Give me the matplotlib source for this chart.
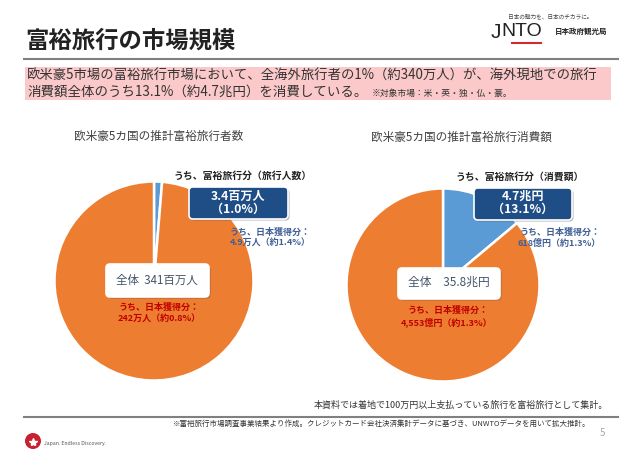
import matplotlib
matplotlib.use("Agg")
import matplotlib.pyplot as plt
from matplotlib.patches import FancyBboxPatch, Rectangle, Circle

plt.rcParams["font.family"] = ["Noto Sans CJK JP", "DejaVu Sans"]

# ─── data ─────────────────────────────────────────────
# shares as drawn in the picture (slices are a bit wider than their labels)
travellers_values = [1.3, 98.7]
spending_values = [13.9, 86.1]

title_left = "欧米豪5カ国の推計富裕旅行者数"
title_right = "欧米豪5カ国の推計富裕旅行消費額"

BLUE = "#5b9bd5"
ORANGE = "#ed7d31"
NAVY = "#1f4e86"
GREY_TEXT = "#404040"
SLATE = "#44546a"
SUB_BLUE = "#3f5f95"
RED = "#c00000"

W, H = 640, 453
fig = plt.figure(figsize=(W / 100, H / 100), dpi=100)

# full figure overlay in pixel coords
bg = fig.add_axes([0, 0, 1, 1])
bg.set_xlim(0, W)
bg.set_ylim(H, 0)
bg.axis("off")


def add_pie(values, cx, cy, r):
    ax = fig.add_axes([(cx - r) / W, 1 - (cy + r) / H, 2 * r / W, 2 * r / H])
    ax.pie(values, colors=[BLUE, ORANGE], startangle=90, counterclock=False,
           radius=1.0, wedgeprops={"edgecolor": "white", "linewidth": 1.8})
    ax.set_xlim(-1, 1)
    ax.set_ylim(-1, 1)
    ax.set_zorder(1)


add_pie(travellers_values, 154, 281, 99.5)
add_pie(spending_values, 443, 285, 96.5)

# overlay for labels, above the pies
top = fig.add_axes([0, 0, 1, 1])
top.set_xlim(0, W)
top.set_ylim(H, 0)
top.axis("off")
top.set_zorder(2)
top.patch.set_alpha(0)


def box(x, y, w, h, face, edge="white", r=4):
    # soft shadow then the box
    top.add_patch(FancyBboxPatch((x + 1.5, y + 1.5), w, h, boxstyle=f"round,pad=0,rounding_size={r}",
                                 fc="#555555", ec="none", alpha=0.45))
    top.add_patch(FancyBboxPatch((x, y), w, h, boxstyle=f"round,pad=0,rounding_size={r}",
                                 fc=face, ec=edge, lw=1.2))


def label(x, y, s, size, color=GREY_TEXT, weight="normal", ha="center"):
    top.text(x, y, s, fontsize=size, color=color, fontweight=weight, ha=ha, va="center")


# ─── header ───────────────────────────────────────────
bg.add_patch(Rectangle((25, 67), 586, 33, fc="#fbc9c9", ec="none"))
bg.plot([24, 618], [59, 59], color="#808080", lw=1.5)
label(25, 41, "富裕旅行の市場規模", 16.8, "#222222", "bold", ha="left")
label(27, 76, "欧米豪5市場の富裕旅行市場において、全海外旅行者の1%（約340万人）が、海外現地での旅行", 9.6, "#333333", ha="left")
label(27, 92, "消費額全体のうち13.1%（約4.7兆円）を消費している。", 9.7, "#333333", ha="left")
label(372, 93, "※対象市場：米・英・独・仏・豪。", 6.3, "#333333", ha="left")

# JNTO logo
label(550, 16.5, "日本の魅力を、日本のチカラに。", 4.1, "#444444")
top.text(491, 33, "J", fontsize=15, color="#222222", family="Liberation Sans", ha="left", va="center")
top.text(501, 32, "NTO", fontsize=14, color="#222222", family="Liberation Sans", ha="left", va="center")
bg.plot([512, 541], [43, 43], color="#d7282f", lw=1.5)
label(581, 31.5, "日本政府観光局", 5.4, "#222222", "bold")

# ─── left pie labels ──────────────────────────────────
label(159, 136, title_left, 8.4)
label(243, 176, "うち、富裕旅行分（旅行人数）", 7.1, "#222222", "bold")
box(189, 187, 99, 32, NAVY)
label(238, 196.5, "3.4百万人", 8.7, "white", "bold")
label(238, 209.5, "（1.0%）", 8.7, "white", "bold")
label(270, 232, "うち、日本獲得分：", 6.5, SUB_BLUE, "bold")
label(270, 242, "4.9万人（約1.4%）", 6.5, SUB_BLUE, "bold")

box(106, 264, 103, 33, "white", r=4)
label(157, 280, "全体  341百万人", 8.3, SLATE)
label(159, 307, "うち、日本獲得分：", 6.5, RED, "bold")
label(159, 318, "242万人（約0.8%）", 6.5, RED, "bold")

# ─── right pie labels ─────────────────────────────────
label(461, 137, title_right, 8.4)
label(520, 177, "うち、富裕旅行分（消費額）", 7.1, "#222222", "bold")
box(474, 188, 98, 32, NAVY)
label(523, 196.5, "4.7兆円", 8.7, "white", "bold")
label(523, 209.5, "（13.1%）", 8.7, "white", "bold")
label(560, 232, "うち、日本獲得分：", 6.5, SUB_BLUE, "bold")
label(559, 243, "618億円（約1.3%）", 6.5, SUB_BLUE, "bold")

box(398, 268, 102, 31, "white", r=4)
label(449, 282, "全体　35.8兆円", 8.5, SLATE)
label(448, 310, "うち、日本獲得分：", 6.5, RED, "bold")
label(447, 322, "4,553億円（約1.3%）", 6.5, RED, "bold")

# ─── footer ───────────────────────────────────────────
label(608, 405, "本資料では着地で100万円以上支払っている旅行を富裕旅行として集計。", 6.5, "#333333", ha="right")
bg.plot([24, 618], [417, 417], color="#808080", lw=1.5)
label(590, 424, "※富裕旅行市場調査事業結果より作成。クレジットカード会社決済集計データに基づき、UNWTOデータを用いて拡大推計。", 5.4, "#333333", ha="right")
label(602, 433, "5", 7, "#a6a6a6")

# footer logo
bg.add_patch(Circle((33, 441), 8, fc="#c8202f", ec="none"))
bg.plot([33], [442], marker="*", color="white", markersize=6, linestyle="none")
label(44, 443, "Japan. Endless Discovery.", 3.7, "#555555", ha="left")

fig.savefig("out.png", dpi=100)
